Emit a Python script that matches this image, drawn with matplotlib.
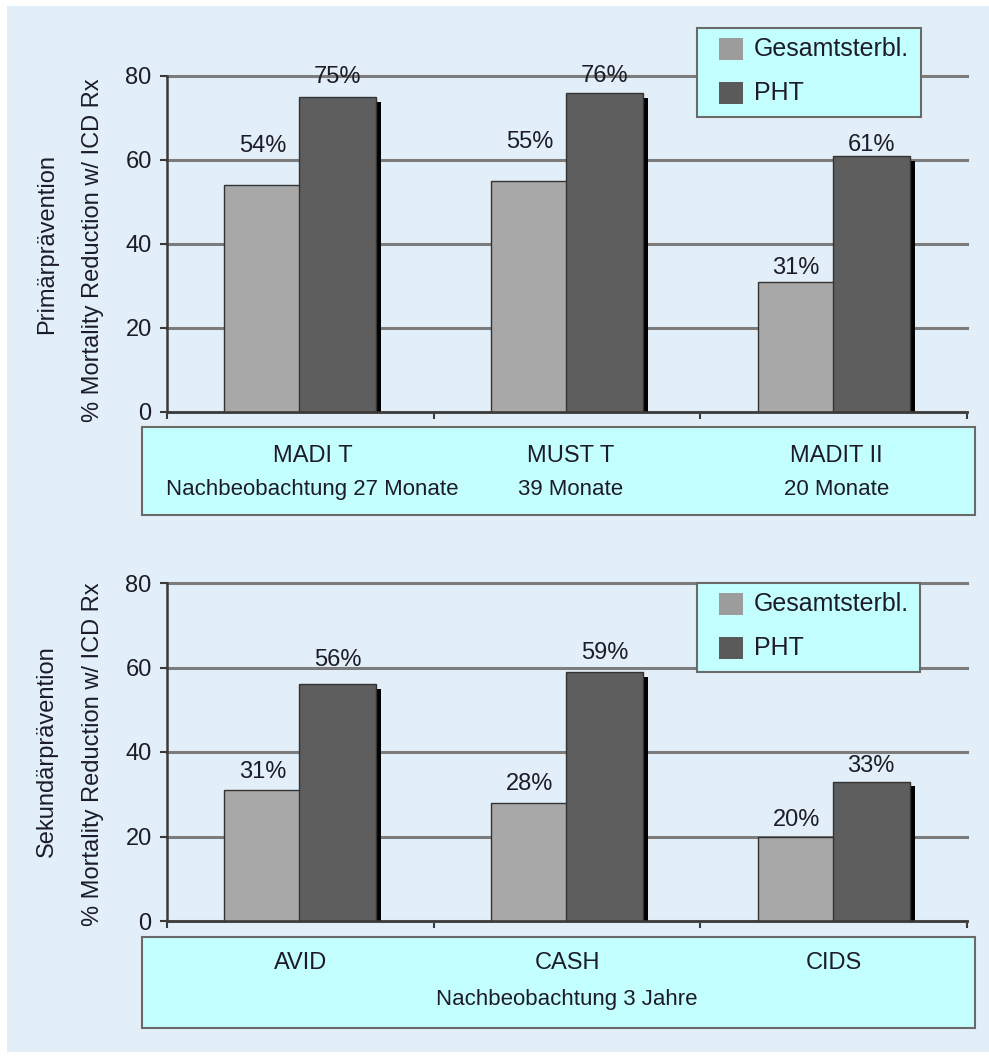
import matplotlib
matplotlib.use("Agg")
import matplotlib.pyplot as plt
import matplotlib.patheffects as pe
from matplotlib.patches import Rectangle
import matplotlib.transforms as mtransforms
import numpy as np

# ---------------- data ----------------
series_names = ["Gesamtsterbl.", "PHT"]

top_trials = ["MADI T", "MUST T", "MADIT II"]
top_followup = ["Nachbeobachtung 27 Monate", "39 Monate", "20 Monate"]
top_total = [54, 55, 31]
top_pht = [75, 76, 61]
top_ylabel = "Primärprävention"

bot_trials = ["AVID", "CASH", "CIDS"]
bot_followup = "Nachbeobachtung 3 Jahre"
bot_total = [31, 28, 20]
bot_pht = [56, 59, 33]
bot_ylabel = "Sekundärprävention"

common_ylabel = "% Mortality Reduction w/ ICD Rx"
yticks = [0, 20, 40, 60, 80]

# label offsets above bar tops (pixels), as in the original layout
top_total_off = [39, 39, 14]
top_pht_off = [20, 17, 11]
bot_total_off = [18, 19, 16]
bot_pht_off = [24, 19, 16]
# horizontal shift of the top category labels (pixels)
top_label_shift = [12, 4, 3]

# ---------------- style ----------------
plt.rcParams['font.family'] = ['Liberation Sans', 'DejaVu Sans']
TXT = '#1c1c28'
GRAY = '#a8a8a8'
DARK = '#5e5e5e'
LEG_COLORS = ['#9c9c9c', '#5a5a5a']
CYAN = '#c4ffff'
BG = '#e2eff9'
W, H = 989, 1056

fig = plt.figure(figsize=(W / 100, H / 100), dpi=100)
fig.patch.set_facecolor('white')


def fx(x):
    return x / W


def fy(y):
    return 1 - y / H


def frect(x0, y0, x1, y1, **kw):
    r = Rectangle((fx(x0), fy(y1)), fx(x1) - fx(x0), fy(y0) - fy(y1),
                  transform=fig.transFigure, **kw)
    fig.patches.append(r)
    return r


frect(7, 6, 989, 1052, facecolor=BG, edgecolor='none', zorder=-10)

shadow = [pe.SimplePatchShadow(offset=(3.5, -3.5), shadow_rgbFace='black', alpha=1.0),
          pe.Normal()]


def panel(top_px, bot_px, total, pht, t_off, p_off, leg_box, box_top, box_bot):
    ax = fig.add_axes([fx(167), fy(bot_px), fx(967) - fx(167), fy(top_px) - fy(bot_px)])
    ax.set_facecolor('none')
    x = np.arange(len(total))
    bw = 0.289
    ax.bar(x - 0.1405, total, width=bw, color=GRAY, edgecolor='#333333',
           linewidth=1.0, zorder=3, path_effects=shadow)
    ax.bar(x + 0.1405, pht, width=bw, color=DARK, edgecolor='#333333',
           linewidth=1.0, zorder=4, path_effects=shadow)
    ax.set_xlim(-0.5, len(total) - 0.5)
    ax.set_ylim(0, 80)
    ax.set_yticks(yticks)
    ax.set_xticks(np.arange(len(total) + 1) - 0.5)
    ax.set_xticklabels([])
    ax.yaxis.grid(True, color='#7c7c7c', linewidth=2.2, zorder=1)
    ax.set_axisbelow(True)
    for g in ax.get_ygridlines():
        g.set_clip_on(False)
    for s in ['top', 'right']:
        ax.spines[s].set_visible(False)
    for s in ['left', 'bottom']:
        ax.spines[s].set_color('#3a3a3a')
        ax.spines[s].set_linewidth(1.8)
        ax.spines[s].set_zorder(5)
    ax.tick_params(axis='y', length=5, width=1.5, color='#3a3a3a', pad=6,
                   labelsize=17, labelcolor=TXT)
    ax.tick_params(axis='x', length=5, width=1.5, color='#3a3a3a')

    for xi, v, o in zip(x, total, t_off):
        ax.annotate(f"{v}%", xy=(xi - 0.1405, v), xytext=(0, o * 0.72),
                    textcoords='offset points', ha='center', va='center',
                    fontsize=17, color=TXT, zorder=6)
    for xi, v, o in zip(x, pht, p_off):
        ax.annotate(f"{v}%", xy=(xi + 0.1405, v), xytext=(0, o * 0.72),
                    textcoords='offset points', ha='center', va='center',
                    fontsize=17, color=TXT, zorder=6)

    # legend box (drawn in figure pixels)
    lx0, ly0, lx1, ly1 = leg_box
    frect(lx0, ly0, lx1, ly1, facecolor=CYAN, edgecolor='#6a6a6a',
          linewidth=1.5, zorder=5)
    for k, (name, col) in enumerate(zip(series_names, LEG_COLORS)):
        cy = ly0 + 21 + k * 44
        frect(lx0 + 22, cy - 11, lx0 + 46, cy + 11, facecolor=col,
              edgecolor='none', zorder=6)
        fig.text(fx(lx0 + 57), fy(cy), name, ha='left', va='center',
                 fontsize=18, color=TXT, zorder=7)

    # category box
    frect(142, box_top, 975, box_bot, facecolor=CYAN, edgecolor='#6a6a6a',
          linewidth=1.5, zorder=-1)
    return ax


# ---------------- top panel ----------------
ax1 = panel(76, 412, top_total, top_pht, top_total_off, top_pht_off,
            (697, 28, 921, 117), 427, 515)
tr1 = mtransforms.blended_transform_factory(ax1.transData, fig.transFigure)
for i, (n, f, s) in enumerate(zip(top_trials, top_followup, top_label_shift)):
    ax1.annotate(n, xy=(i, fy(456)), xycoords=tr1, xytext=(s * 0.72, 0),
                 textcoords='offset points', ha='center', va='center',
                 fontsize=17, color=TXT, annotation_clip=False)
    ax1.annotate(f, xy=(i, fy(489)), xycoords=tr1, xytext=(s * 0.72, 0),
                 textcoords='offset points', ha='center', va='center',
                 fontsize=16, color=TXT, annotation_clip=False)
fig.text(fx(47), fy(244), top_ylabel, rotation=90, ha='center', va='center',
         fontsize=17, color=TXT)
fig.text(fx(93), fy(250), common_ylabel, rotation=90, ha='center', va='center',
         fontsize=17, color=TXT)

# ---------------- bottom panel ----------------
ax2 = panel(583, 921, bot_total, bot_pht, bot_total_off, bot_pht_off,
            (697, 583, 920, 672), 937, 1028)
tr2 = mtransforms.blended_transform_factory(ax2.transData, fig.transFigure)
for i, n in enumerate(bot_trials):
    ax2.text(i, fy(963), n, transform=tr2, ha='center', va='center',
             fontsize=17, color=TXT)
ax2.text(1, fy(1000), bot_followup, transform=tr2, ha='center', va='center',
         fontsize=16, color=TXT)
fig.text(fx(47), fy(751), bot_ylabel, rotation=90, ha='center', va='center',
         fontsize=17, color=TXT)
fig.text(fx(93), fy(754), common_ylabel, rotation=90, ha='center', va='center',
         fontsize=17, color=TXT)

fig.savefig("out.png", dpi=100, facecolor=fig.get_facecolor())
